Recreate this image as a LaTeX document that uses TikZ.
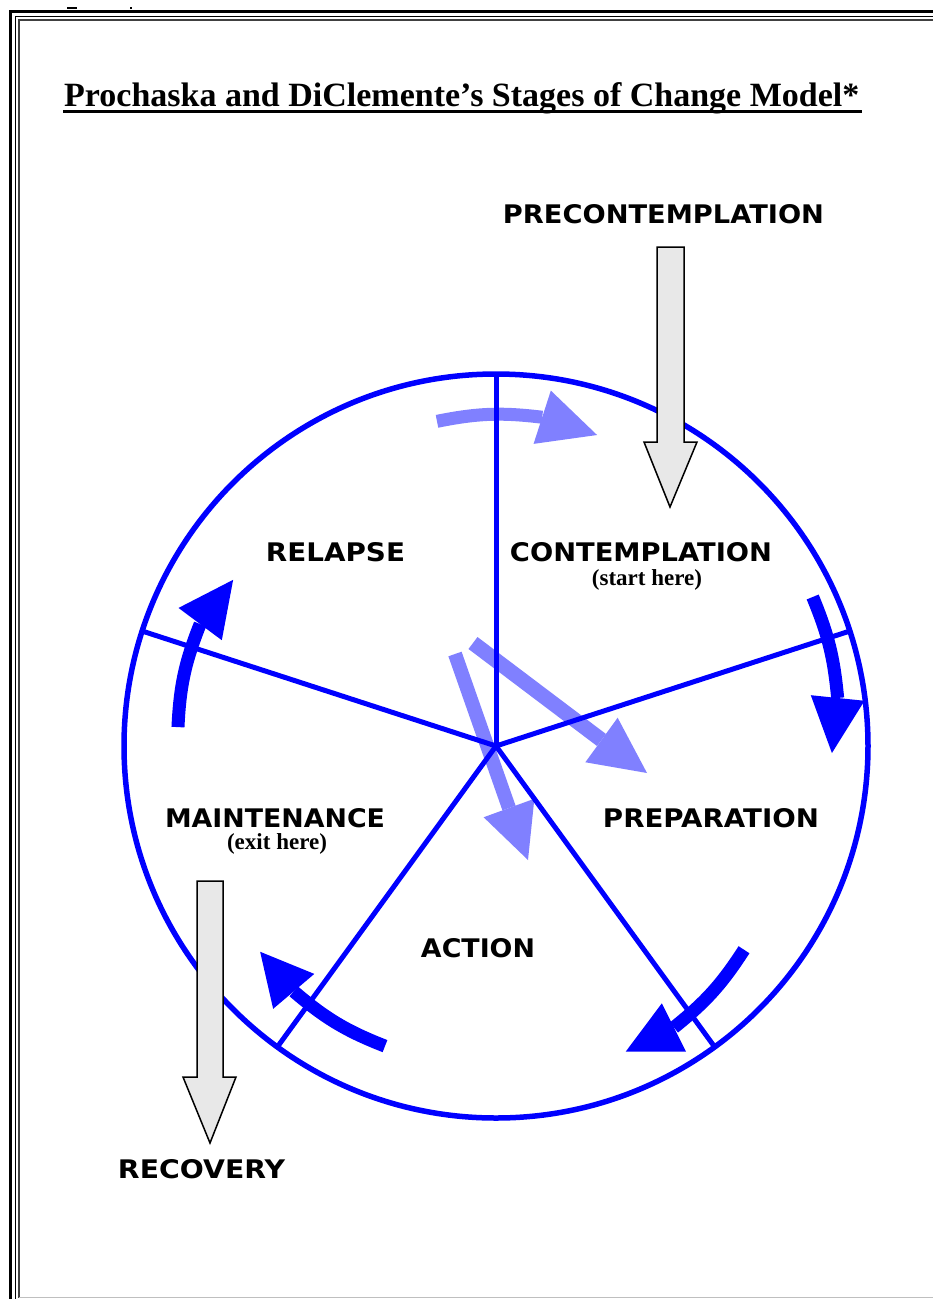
\documentclass[tikz,border=0pt]{standalone}
\usepackage{fontspec}
\usepackage{graphicx}
\setmainfont{Liberation Serif}
\newfontfamily\stagefont{DejaVu Sans}
\usetikzlibrary{calc}
\definecolor{dblue}{RGB}{0,0,255}
\definecolor{lblue}{RGB}{128,128,255}
\definecolor{agray}{RGB}{232,232,232}
\newcommand{\stg}[3]{\resizebox{#1pt}{#2pt}{\stagefont\bfseries #3}}
% curved block arrow: #1 style, #2 start angle, #3 start radius, #4 base angle, #5 base radius, #6 tip angle, #7 tip radius, #8 half head width
\newcommand{\carr}[8]{%
  \draw[#1, line width=13pt] (#2:#3) to[bend left={(#2-(#4))/2}] (#4:#5);
  \fill[#1] ($(#4:#5)!#8pt!90:(#6:#7)$) -- (#6:#7) -- ($(#4:#5)!#8pt!-90:(#6:#7)$) -- cycle;
}
\tikzset{
  blockarrow/.style={fill=agray, draw=black, line width=1.5pt, line join=miter},
  stage/.style={inner sep=0pt, anchor=center},
  note/.style={inner sep=0pt, anchor=center, font=\fontsize{23}{24}\selectfont\bfseries},
  ring/.style={draw=dblue, line width=5.5pt},
  spoke/.style={draw=dblue, line width=5pt}
}
\begin{document}
\begin{tikzpicture}[x=1pt,y=1pt]
\begin{scope}[yscale=-1]
\fill[white] (0,0) rectangle (933,1299);
\useasboundingbox (0,0) rectangle (933,1299);
% page frame
\draw[line width=3.5pt] (10.5,1310) -- (10.5,11.5) -- (945,11.5);
\draw[line width=1pt] (15,1310) -- (15,16) -- (945,16);
\draw[line width=1.4pt, black!75] (19,1297.5) -- (19,20) -- (945,20);
\draw[line width=1pt, black!25] (19,1297.5) -- (945,1297.5);
\fill (67,6.5) rectangle (77,9);
\fill (129.5,6.5) rectangle (132,9);
% title
\node[anchor=base west, inner sep=0pt, font=\fontsize{34}{40}\selectfont\bfseries] (title) at (64,106) {Prochaska and DiClemente’s Stages of Change Model*};
\draw[line width=3pt] (63,111.5) -- (862,111.5);

\begin{scope}[shift={(496,746)}, yscale=-1]
  \coordinate (c) at (0,0);
  % light arrows
  \carr{lblue}{100.3}{330}{82}{332}{72}{327}{28}
  \coordinate (aS) at (-23,103); \coordinate (aB) at (105.5,6); \coordinate (aT) at (151,-27);
  \draw[lblue, line width=15pt] (aS) -- (aB);
  \fill[lblue] ($(aB)!27.5pt!90:(aT)$) -- (aT) -- ($(aB)!27.5pt!-90:(aT)$) -- cycle;
  \coordinate (bS) at (-41,92); \coordinate (bB) at (13,-62); \coordinate (bT) at (32,-114);
  \draw[lblue, line width=14pt] (bS) -- (bB);
  \fill[lblue] ($(bB)!27pt!90:(bT)$) -- (bT) -- ($(bB)!27pt!-90:(bT)$) -- cycle;
  % ring and spokes
  \draw[ring] (c) circle[radius=372];
  \foreach \a/\n in {90/s1,18/s2,-54/s3,-126/s4,162/s5}{
    \coordinate (\n) at (\a:372);
    \draw[spoke] (c) -- (\n);
  }
  % dark arrows
  \carr{dblue}{25.2}{350}{8}{345}{-1.2}{336}{27}
  \carr{dblue}{-39.4}{321}{-57.7}{333}{-67}{332}{27}
  \carr{dblue}{-110.3}{320}{-129.5}{318}{-138.9}{313}{27}
  \carr{dblue}{176.6}{318.6}{157.6}{320}{147.7}{311}{27}
\end{scope}

% grey block arrows
\draw[blockarrow] (657,247) -- (684,247) -- (684,442) -- (697,442) -- (670,507) -- (644,442) -- (657,442) -- cycle;
\draw[blockarrow] (197,881) -- (223,881) -- (223,1077) -- (236,1077) -- (210,1143) -- (183,1077) -- (197,1077) -- cycle;

% labels
\node[stage] (pre) at (663.5,214.5) {\stg{321}{19}{PRECONTEMPLATION}};
\node[stage] (con) at (641,552) {\stg{262}{19}{CONTEMPLATION}};
\node[note] (start) at (647,580) {(start here)};
\node[stage] (rel) at (335.5,552) {\stg{139}{19}{RELAPSE}};
\node[stage] (prep) at (711,818) {\stg{216}{19}{PREPARATION}};
\node[stage] (main) at (275,818) {\stg{220}{19}{MAINTENANCE}};
\node[note] (exit) at (277,844) {(exit here)};
\node[stage] (act) at (478,948) {\stg{114}{19}{ACTION}};
\node[stage] (rec) at (201.5,1169) {\stg{167}{19}{RECOVERY}};
\end{scope}
\end{tikzpicture}
\end{document}
